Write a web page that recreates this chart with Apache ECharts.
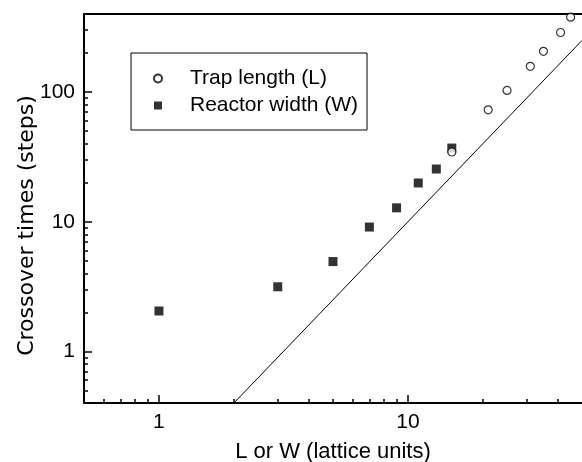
<!DOCTYPE html>
<html>
<head>
<meta charset="utf-8">
<script src="https://cdn.jsdelivr.net/npm/echarts@6/dist/echarts.min.js"></script>
<style>
html,body{margin:0;padding:0;background:#fff;}
#chart{width:582px;height:462px;}
</style>
</head>
<body>
<div id="chart"></div>
<script>
// Data
const trapX = [15, 21, 25, 31, 35, 41, 45];
const trapY = [34.5, 73, 103, 158, 206, 288, 378];
const widthX = [1, 3, 5, 7, 9, 11, 13, 15];
const widthY = [2.05, 3.15, 4.93, 9.1, 12.8, 19.9, 25.5, 37];
const fitX = [2, 50];
const fitY = [0.4, 250];
const xMajorTicks = [1, 10];
const xMinorTicks = [0.6, 0.7, 0.8, 0.9, 2, 3, 4, 5, 6, 7, 8, 9, 20, 30, 40];
const yMajorTicks = [1, 10, 100];
const yMinorTicks = [0.5, 0.6, 0.7, 0.8, 0.9, 2, 3, 4, 5, 6, 7, 8, 9, 20, 30, 40, 50, 60, 70, 80, 90, 200, 300];

const FONT = '"Liberation Sans", Arial, Helvetica, sans-serif';
const WIDE_FONT = '"DejaVu Sans", "Liberation Sans", sans-serif';
const zip = (xs, ys) => xs.map((x, i) => [x, ys[i]]);

const chart = echarts.init(document.getElementById('chart'), null, {renderer: 'canvas'});
const xBase = {type: 'log', logBase: 10, min: 0.5, max: 50, gridIndex: 0, splitLine: {show: false}};
const yBase = {type: 'log', logBase: 10, min: 0.4, max: 400, gridIndex: 0, splitLine: {show: false}};
chart.setOption({
  animation: false,
  backgroundColor: '#fff',
  grid: {left: 84, right: 0, top: 14, bottom: 59, containLabel: false, outerBoundsMode: 'none'},
  legend: {
    orient: 'vertical',
    left: 131, top: 53,
    data: ['Trap length (L)', 'Reactor width (W)'],
    itemWidth: 8, itemHeight: 8,
    itemGap: 6,
    padding: [15, 9, 14, 22],
    borderColor: '#000', borderWidth: 1,
    textStyle: {fontFamily: FONT, fontSize: 21, color: '#000', lineHeight: 20, padding: [0, 0, 0, 23]}
  },
  xAxis: [
    Object.assign({}, xBase, {
      position: 'bottom',
      axisLine: {show: true, lineStyle: {color: '#000', width: 2}},
      axisTick: {show: true, inside: true, length: 8, lineStyle: {color: '#000', width: 1.5}, customValues: xMajorTicks},
      axisLabel: {show: true, customValues: xMajorTicks, margin: 9, fontFamily: FONT, fontSize: 21, color: '#000'},
      name: 'L or W (lattice units)', nameLocation: 'middle', nameGap: 38, nameMoveOverlap: false,
      nameTextStyle: {fontFamily: FONT, fontSize: 22, color: '#000'}
    }),
    Object.assign({}, xBase, {
      position: 'bottom',
      axisLine: {show: false},
      axisTick: {show: true, inside: true, length: 4, lineStyle: {color: '#000', width: 1.5}, customValues: xMinorTicks},
      axisLabel: {show: false}
    }),
    Object.assign({}, xBase, {
      position: 'top',
      axisLine: {show: true, lineStyle: {color: '#000', width: 2}},
      axisTick: {show: false}, axisLabel: {show: false}
    })
  ],
  yAxis: [
    Object.assign({}, yBase, {
      position: 'left',
      axisLine: {show: true, lineStyle: {color: '#000', width: 2}},
      axisTick: {show: true, inside: true, length: 8, lineStyle: {color: '#000', width: 1.5}, customValues: yMajorTicks},
      axisLabel: {show: true, customValues: yMajorTicks, margin: 9, fontFamily: FONT, fontSize: 21, color: '#000'},
      name: 'Crossover times (steps)', nameLocation: 'middle', nameGap: 46, nameMoveOverlap: false,
      nameTextStyle: {fontFamily: WIDE_FONT, fontSize: 22, color: '#000', padding: [0, 34, 0, 0]}
    }),
    Object.assign({}, yBase, {
      position: 'left',
      axisLine: {show: false},
      axisTick: {show: true, inside: true, length: 4, lineStyle: {color: '#000', width: 1.5}, customValues: yMinorTicks},
      axisLabel: {show: false}
    })
  ],
  series: [
    {
      name: 'Reactor width (W)', type: 'scatter', xAxisIndex: 0, yAxisIndex: 0,
      symbol: 'rect', symbolSize: 9,
      itemStyle: {color: '#000'},
      data: zip(widthX, widthY), z: 3
    },
    {
      name: 'Trap length (L)', type: 'scatter', xAxisIndex: 0, yAxisIndex: 0,
      symbol: 'circle', symbolSize: 8,
      itemStyle: {color: '#fff', borderColor: '#000', borderWidth: 1.2},
      data: zip(trapX, trapY), z: 4
    },
    {
      name: 'fit', type: 'line', xAxisIndex: 0, yAxisIndex: 0,
      symbol: 'none', clip: true,
      lineStyle: {color: '#000', width: 1},
      data: zip(fitX, fitY), z: 2
    }
  ]
});
</script>
</body>
</html>
